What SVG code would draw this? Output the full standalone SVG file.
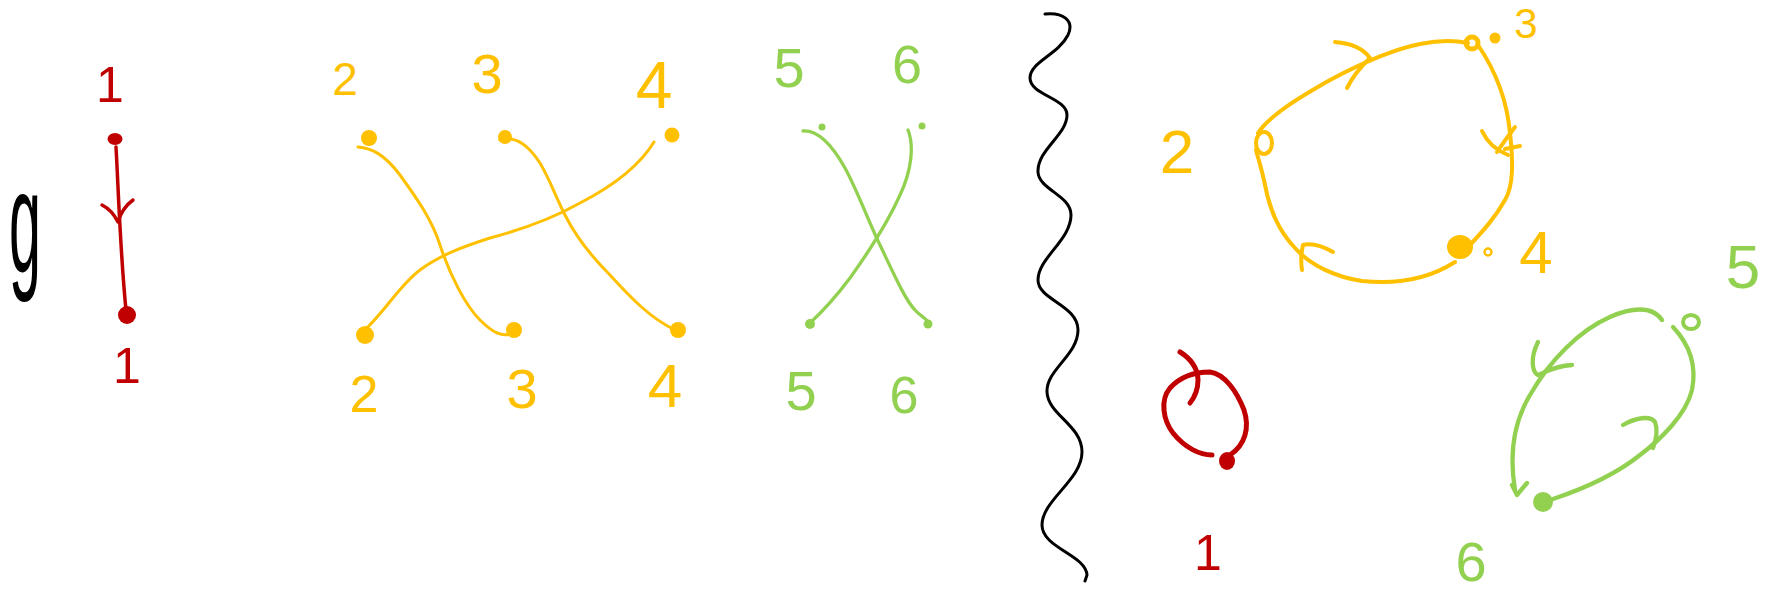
<svg xmlns="http://www.w3.org/2000/svg" width="1769" height="590" viewBox="0 0 1769 590">
<style>
.t{font-family:"Liberation Sans","DejaVu Sans",sans-serif;text-anchor:middle}
.r{fill:#c00000}.y{fill:#ffc000}.gr{fill:#92d050}.k{fill:#000}
.ln{fill:none;stroke-linecap:round;stroke-linejoin:round}
.sr{stroke:#c00000}.sy{stroke:#ffc000}.sg{stroke:#92d050}.sk{stroke:#000}
</style>
<rect width="1769" height="590" fill="#fff"/>

<g id="graph-label"><text class="t k" x="25" y="272" font-size="145" textLength="32" lengthAdjust="spacingAndGlyphs">g</text></g>

<!-- left: identity 1 -->
<g id="n1-top"><text class="t r" x="110" y="102" font-size="50">1</text><ellipse class="r" cx="115" cy="139" rx="7.5" ry="6"/></g>
<g id="n1-bot"><ellipse class="r" cx="127" cy="315" rx="9" ry="9"/><text class="t r" x="127" y="383" font-size="50">1</text></g>

<!-- yellow crossings -->
<g id="y2-top"><text class="t y" x="345" y="95" font-size="46">2</text><circle class="y" cx="369" cy="138" r="8"/></g>
<g id="y3-top"><text class="t y" x="487" y="93" font-size="56">3</text><circle class="y" cx="505" cy="137" r="7"/></g>
<g id="y4-top"><text class="t y" x="654" y="108" font-size="66">4</text><circle class="y" cx="672" cy="135" r="7.5"/></g>
<g id="y2-bot"><circle class="y" cx="365" cy="335" r="9"/><text class="t y" x="364" y="412" font-size="52">2</text></g>
<g id="y3-bot"><circle class="y" cx="514" cy="330" r="8"/><text class="t y" x="522" y="408" font-size="56">3</text></g>
<g id="y4-bot"><circle class="y" cx="678" cy="330" r="8"/><text class="t y" x="665" y="407" font-size="62">4</text></g>

<!-- green crossings -->
<g id="g5-top"><text class="t gr" x="789" y="87" font-size="56">5</text><circle class="gr" cx="822" cy="127" r="3.5"/></g>
<g id="g6-top"><text class="t gr" x="907" y="83" font-size="54">6</text><circle class="gr" cx="922" cy="126" r="3.5"/></g>
<g id="g5-bot"><circle class="gr" cx="810" cy="324" r="5"/><text class="t gr" x="801" y="410" font-size="56">5</text></g>
<g id="g6-bot"><circle class="gr" cx="928" cy="324" r="4.5"/><text class="t gr" x="904" y="413" font-size="52">6</text></g>

<!-- separator -->
<g id="separator"><path class="ln sk" stroke-width="3" d="M1045,14 C1062,12 1075,20 1068,35 C1058,55 1030,62 1030,78 C1030,95 1067,98 1067,115 C1067,135 1037,150 1038,172 C1039,190 1071,195 1071,215 C1071,240 1038,258 1038,280 C1038,300 1078,305 1078,330 C1078,355 1046,370 1047,392 C1048,415 1082,425 1082,452 C1082,480 1042,500 1042,525 C1042,548 1086,555 1087,575 L1085,581"/></g>

<!-- yellow cycle nodes -->
<g id="c2"><text class="t y" x="1177" y="173" font-size="62">2</text><ellipse class="ln sy" stroke-width="4" cx="1264" cy="143" rx="8" ry="11"/></g>
<g id="c3"><text class="t y" x="1526" y="38" font-size="42">3</text><circle class="ln sy" stroke-width="5" cx="1472" cy="43" r="6"/><circle class="y" cx="1495" cy="38" r="5.5"/></g>
<g id="c4"><ellipse class="y" cx="1460" cy="247" rx="13" ry="12"/><circle class="ln sy" stroke-width="2.5" cx="1488" cy="252" r="3.5"/><text class="t y" x="1536" y="273" font-size="60">4</text></g>

<!-- red self loop node -->
<g id="c1"><ellipse class="r" cx="1227" cy="461" rx="8" ry="9"/><text class="t r" x="1208" y="570" font-size="50">1</text></g>

<!-- green cycle nodes -->
<g id="c5"><ellipse class="ln sg" stroke-width="4" cx="1691" cy="322" rx="8" ry="7"/><text class="t gr" x="1743" y="288" font-size="62">5</text></g>
<g id="c6"><circle class="gr" cx="1543" cy="502" r="10"/><text class="t gr" x="1471" y="581" font-size="56">6</text></g>

<g id="connectors">
  <!-- red arrow 1->1 -->
  <path class="ln sr" stroke-width="3.5" d="M116,147 C118,180 120,250 126,310"/>
  <path class="ln sr" stroke-width="3.5" d="M102,205 Q112,210 118,222 Q122,208 133,200"/>
  <!-- yellow crossings -->
  <path class="ln sy" stroke-width="3" d="M358,147 C372,148 385,155 400,175 C418,200 432,220 440,245 C450,275 465,305 480,320 C492,332 502,338 513,333"/>
  <path class="ln sy" stroke-width="3" d="M500,140 C512,136 525,140 540,163 C550,180 555,195 565,215 C575,235 590,255 610,275 C630,297 650,318 675,330"/>
  <path class="ln sy" stroke-width="3" d="M654,142 C640,165 615,185 580,203 C550,220 520,230 490,238 C465,246 440,255 420,270 C400,285 390,305 365,330"/>
  <!-- green crossings -->
  <path class="ln sg" stroke-width="3.3" d="M803,131 C818,130 832,145 845,168 C858,192 870,225 880,245 C892,270 905,300 915,310 C922,318 928,318 928,325"/>
  <path class="ln sg" stroke-width="3.3" d="M908,130 C914,145 912,170 900,195 C888,222 870,250 850,278 C835,298 822,312 810,323"/>
  <!-- yellow cycle -->
  <path class="ln sy" stroke-width="4" d="M1258,133 C1270,115 1300,97 1330,80 C1360,64 1390,50 1420,44 C1440,40 1458,41 1468,43"/>
  <path class="ln sy" stroke-width="4" d="M1335,42 Q1360,44 1370,58 Q1355,72 1347,88"/>
  <path class="ln sy" stroke-width="4" d="M1478,45 C1495,70 1507,100 1510,133 C1513,160 1514,185 1505,200 C1495,218 1482,232 1470,245"/>
  <path class="ln sy" stroke-width="4" d="M1482,131 Q1490,148 1508,155 M1515,127 Q1505,140 1497,152 M1505,149 L1520,146"/>
  <path class="ln sy" stroke-width="4" d="M1455,262 C1430,278 1400,285 1362,281 C1335,277 1310,265 1295,248 C1278,230 1270,210 1265,185 C1262,170 1258,158 1256,150"/>
  <path class="ln sy" stroke-width="4" d="M1333,252 Q1315,242 1303,245 Q1300,258 1302,270"/>
  <!-- red self loop -->
  <path class="ln sr" stroke-width="5" d="M1212,455 C1200,455 1185,448 1173,433 C1163,420 1160,400 1170,388 C1180,377 1195,372 1210,372 C1225,374 1237,392 1244,410 C1250,428 1245,445 1230,455"/>
  <path class="ln sr" stroke-width="5" d="M1180,352 C1190,358 1198,368 1198,380 C1198,390 1194,398 1190,403"/>
  <!-- green cycle -->
  <path class="ln sg" stroke-width="4.3" d="M1673,327 C1690,345 1697,365 1692,390 C1686,415 1660,440 1640,455 C1615,475 1580,490 1553,499"/>
  <path class="ln sg" stroke-width="4.3" d="M1623,425 C1635,418 1650,415 1655,422 C1658,430 1656,440 1653,448"/>
  <path class="ln sg" stroke-width="4.3" d="M1515,490 C1510,460 1512,425 1530,395 C1550,360 1580,330 1610,317 C1630,308 1652,305 1662,320"/>
  <path class="ln sg" stroke-width="4.3" d="M1512,485 L1517,495 L1527,483"/>
  <path class="ln sg" stroke-width="4.3" d="M1538,342 C1530,358 1532,372 1538,375 C1545,372 1555,366 1572,365"/>
</g>
</svg>
